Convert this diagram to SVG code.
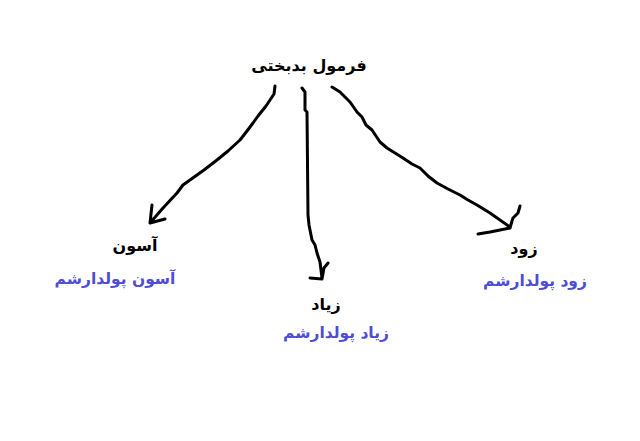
<svg xmlns="http://www.w3.org/2000/svg" width="640" height="441" viewBox="0 0 640 441">
<style>
.t{font-family:"DejaVu Sans","Liberation Sans",sans-serif;text-anchor:middle;direction:rtl}
.k{fill:#000;font-weight:bold;font-size:16px}
.b{fill:#4d4dd6;font-size:15.5px;font-weight:bold}
.c{fill:none;stroke:#000;stroke-width:3;stroke-linecap:round;stroke-linejoin:round}
</style>
<rect width="640" height="441" fill="#fff"/>
<g id="connectors">
<path class="c" d="M275,86 L274,94 L266,106 L258,116 L253,123 L247,131 L240,140 L228,151 L217,160 L204,170 L190,180 L183,185 L177,193 L163,208 L150,223 M152,205 L150,223 L165,219"/>
<path class="c" d="M302,88 L305,92 L305,110 L307,112 L308,215 L309,225 L312,240 L315,245 L317,253 L320,262 L322,278 M310,278 L322,279 L324,268 L328,263"/>
<path class="c" d="M332,87 L340,92 L346,98 L350,102 L357,112 L362,117 L366,125 L372,130 L380,142 L387,148 L395,153 L403,158 L412,164 L420,168 L428,176 L437,183 L448,189 L460,195 L468,200 L477,205 L490,213 L510,227 M478,234 L490,232 L500,230 L510,228 L512,221 L513,218 L518,213 L520,206"/>
</g>
<g id="root"><text class="t k" x="309" y="71">فرمول بدبختی</text></g>
<g id="n1">
<text class="t k" x="135" y="251">آسون</text>
<text class="t b" x="115" y="284">آسون پولدارشم</text>
</g>
<g id="n2">
<text class="t k" x="326" y="310">زیاد</text>
<text class="t b" x="336" y="338">زیاد پولدارشم</text>
</g>
<g id="n3">
<text class="t k" x="524" y="254">زود</text>
<text class="t b" x="535" y="286">زود پولدارشم</text>
</g>
</svg>
